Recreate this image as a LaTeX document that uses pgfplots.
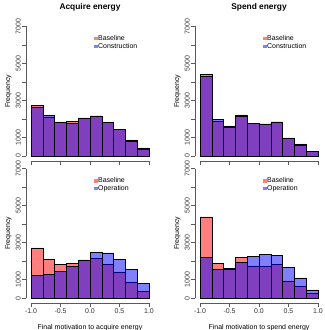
\documentclass[border=0pt]{standalone}
\usepackage{fontspec}
\setmainfont{Liberation Sans}
\usepackage{pgfplots}
\pgfplotsset{compat=1.18}

\definecolor{rred}{rgb}{1,0,0}
\definecolor{rblue}{rgb}{0,0,1}
\definecolor{axgray}{gray}{0.35}

\tikzset{raxes/.style={axgray, line width=0.5bp}}

\pgfplotsset{
  rpanel/.style={
    scale only axis,
    width=127.4bp, height=139.75bp,
    xmin=-1.08, xmax=1.08, ymin=-280, ymax=7280,
    axis lines*=left,
    axis line style={draw=none},
    tick align=outside,
    major tick length=4bp,
    every tick/.style={axgray, line width=0.5bp},
    xtick={-1,-0.5,0,0.5,1},
    ytick={0,1000,...,7000},
    yticklabels={0,1000,,3000,,5000,,7000},
    ticklabel style={font=\fontsize{7}{8}\selectfont, text=black!80},
    yticklabel style={rotate=90, anchor=south, inner sep=1.5bp},
    xticklabel style={inner sep=1.5bp, /pgf/number format/fixed,
      /pgf/number format/fixed zerofill, /pgf/number format/precision=1},
    /pgf/number format/assume math mode=true,
    clip=false,
    legend cell align=left,
    legend style={draw=none, fill=none, font=\fontsize{7}{7}\selectfont,
      at={(axis cs:0.07,6550)}, anchor=north west, inner sep=0pt,
      row sep=0pt, nodes={inner sep=0.6bp}},
    legend image code/.code={\fill[##1, draw=none] (0bp,-1.6bp) rectangle (3.2bp,1.6bp);},
  },
  hbar/.style={ybar interval, fill=#1, fill opacity=0.5, draw=black,
    draw opacity=1, line width=0.55bp},
}

\begin{document}
\begin{tikzpicture}
\useasboundingbox (0,0) rectangle (325bp,-330bp);

% Acquire energy: baseline vs construction
\begin{axis}[rpanel, at={(26.3bp,-21.3bp)}, anchor=north west, xticklabels={}]
\addplot[hbar=rred] coordinates {(-1,2720) (-0.8,2110) (-0.6,1840) (-0.4,1865) (-0.2,2040) (0,2165) (0.2,1830) (0.4,1415) (0.6,865) (0.8,375) (1,375)};
\addplot[hbar=rblue] coordinates {(-1,2650) (-0.8,2210) (-0.6,1830) (-0.4,1740) (-0.2,2050) (0,2165) (0.2,1830) (0.4,1415) (0.6,775) (0.8,430) (1,430)};
\legend{Baseline, Construction}
\draw[raxes] (axis cs:-1,-280) -- (axis cs:1,-280);
\draw[raxes] (axis cs:-1.08,0) -- (axis cs:-1.08,7000);
\end{axis}

% Spend energy: baseline vs construction
\begin{axis}[rpanel, at={(195.3bp,-21.3bp)}, anchor=north west, xticklabels={}]
\addplot[hbar=rred] coordinates {(-1,4390) (-0.8,1865) (-0.6,1625) (-0.4,2220) (-0.2,1740) (0,1730) (0.2,1840) (0.4,930) (0.6,650) (0.8,250) (1,250)};
\addplot[hbar=rblue] coordinates {(-1,4300) (-0.8,1955) (-0.6,1570) (-0.4,2165) (-0.2,1750) (0,1730) (0.2,1840) (0.4,970) (0.6,595) (0.8,255) (1,255)};
\legend{Baseline, Construction}
\draw[raxes] (axis cs:-1,-280) -- (axis cs:1,-280);
\draw[raxes] (axis cs:-1.08,0) -- (axis cs:-1.08,7000);
\end{axis}

% Acquire energy: baseline vs operation
\begin{axis}[rpanel, at={(26.3bp,-163.5bp)}, anchor=north west]
\addplot[hbar=rred] coordinates {(-1,2720) (-0.8,2110) (-0.6,1840) (-0.4,1865) (-0.2,2040) (0,2165) (0.2,1830) (0.4,1415) (0.6,865) (0.8,375) (1,375)};
\addplot[hbar=rblue] coordinates {(-1,1245) (-0.8,1300) (-0.6,1460) (-0.4,1730) (-0.2,2060) (0,2455) (0.2,2440) (0.4,2075) (0.6,1570) (0.8,810) (1,810)};
\legend{Baseline, Operation}
\draw[raxes] (axis cs:-1,-280) -- (axis cs:1,-280);
\draw[raxes] (axis cs:-1.08,0) -- (axis cs:-1.08,7000);
\end{axis}

% Spend energy: baseline vs operation
\begin{axis}[rpanel, at={(195.3bp,-163.5bp)}, anchor=north west]
\addplot[hbar=rred] coordinates {(-1,4390) (-0.8,1865) (-0.6,1625) (-0.4,2220) (-0.2,1740) (0,1730) (0.2,1840) (0.4,930) (0.6,650) (0.8,250) (1,250)};
\addplot[hbar=rblue] coordinates {(-1,2214) (-0.8,1546) (-0.6,1584) (-0.4,1943) (-0.2,2235) (0,2344) (0.2,2306) (0.4,1671) (0.6,1096) (0.8,445) (1,445)};
\legend{Baseline, Operation}
\draw[raxes] (axis cs:-1,-280) -- (axis cs:1,-280);
\draw[raxes] (axis cs:-1.08,0) -- (axis cs:-1.08,7000);
\end{axis}

% Titles and axis labels
\node[font=\bfseries\fontsize{8.4}{9}\selectfont] at (90bp,-7.5bp) {Acquire energy};
\node[font=\bfseries\fontsize{8.4}{9}\selectfont] at (259bp,-7.5bp) {Spend energy};
\node[rotate=90, font=\fontsize{7}{8}\selectfont] at (8.5bp,-91.2bp) {Frequency};
\node[rotate=90, font=\fontsize{7}{8}\selectfont] at (177.5bp,-91.2bp) {Frequency};
\node[rotate=90, font=\fontsize{7}{8}\selectfont] at (8.5bp,-233.4bp) {Frequency};
\node[rotate=90, font=\fontsize{7}{8}\selectfont] at (177.5bp,-233.4bp) {Frequency};
\node[anchor=base, font=\fontsize{7}{8}\selectfont] at (90bp,-329.5bp) {Final motivation to acquire energy};
\node[anchor=base, font=\fontsize{7}{8}\selectfont] at (259bp,-329.5bp) {Final motivation to spend energy};
\end{tikzpicture}
\end{document}
